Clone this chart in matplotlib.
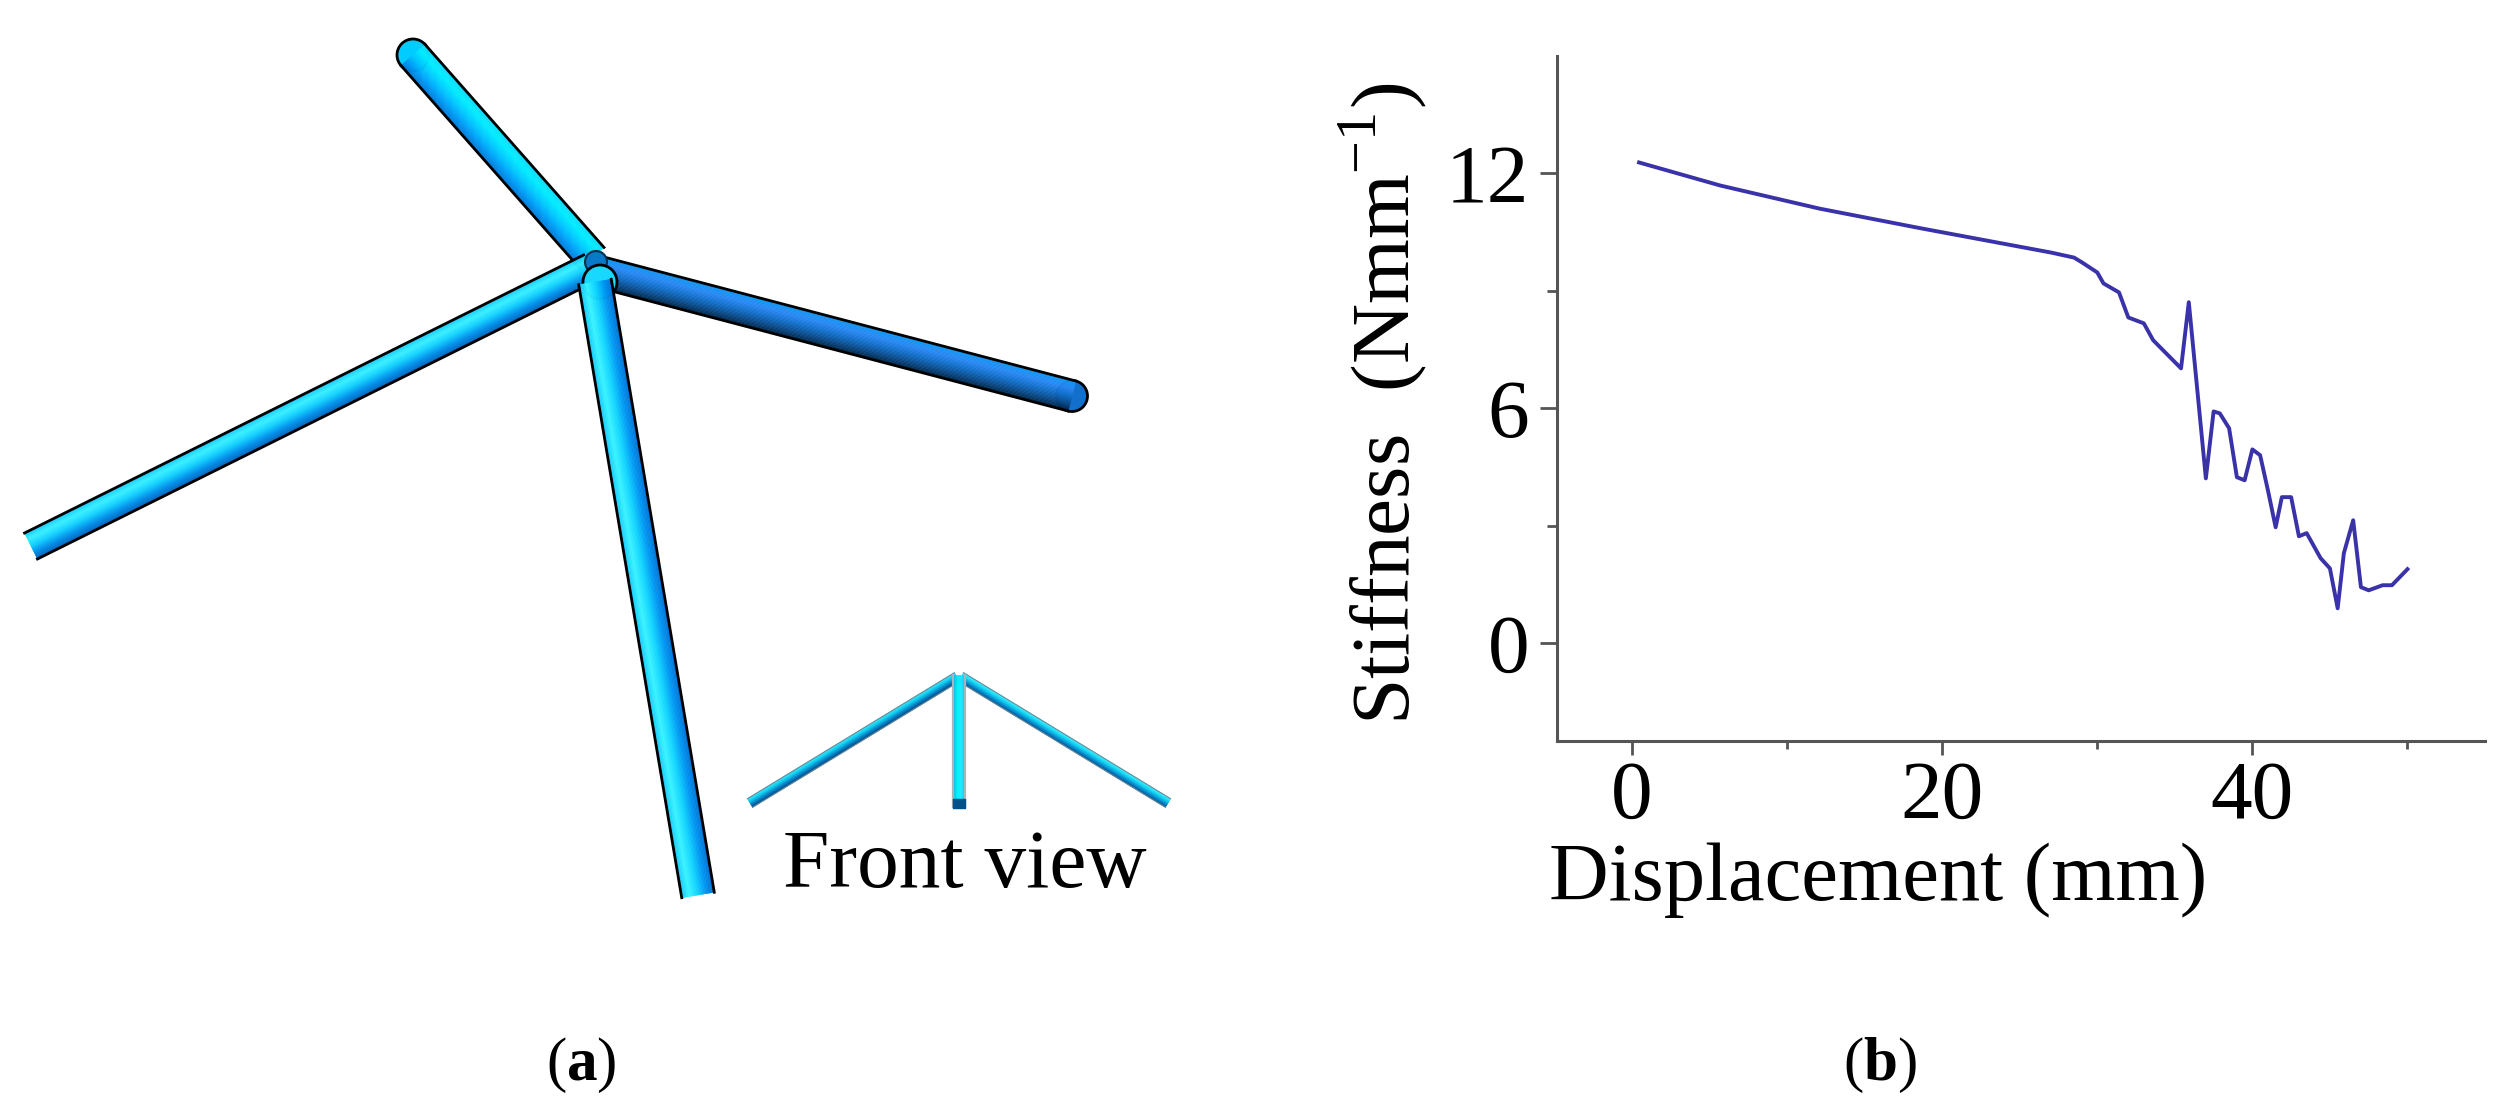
import numpy as np
import matplotlib
matplotlib.use("Agg")
import matplotlib.pyplot as plt
from matplotlib.colors import LinearSegmentedColormap
from matplotlib.patches import Circle

plt.rcParams['font.family'] = ['Liberation Serif', 'DejaVu Serif']
plt.rcParams['mathtext.fontset'] = 'custom'
plt.rcParams['mathtext.rm'] = 'Liberation Serif'
plt.rcParams['mathtext.bf'] = 'Liberation Serif:bold'
plt.rcParams['axes.unicode_minus'] = False

# stiffness curve
displacement = [0.45, 5.7, 12.1, 18.6, 27.0, 28.5, 29.0, 30.0, 30.4, 31.4, 32.0, 33.0, 33.6, 35.4, 35.9,
                37.0, 37.5, 37.9, 38.5, 39.0, 39.5, 40.0, 40.5, 41.0, 41.5, 41.9, 42.5, 43.0,
                43.5, 44.4, 45.0, 45.5, 45.9, 46.5, 47.0, 47.5, 48.4, 49.0, 50.0]
stiffness = [12.28, 11.69, 11.1, 10.6, 9.98, 9.85, 9.73, 9.47, 9.19, 8.96, 8.32, 8.17, 7.74, 7.02, 8.71,
             4.21, 5.92, 5.87, 5.49, 4.24, 4.16, 4.95, 4.80, 3.91, 2.96, 3.73, 3.73, 2.73,
             2.81, 2.17, 1.91, 0.89, 2.30, 3.14, 1.43, 1.35, 1.48, 1.48, 1.89]

x_major = [0, 20, 40]
x_minor = [10, 30, 50]
y_major = [0, 6, 12]
y_minor = [3, 9]

# tube geometry of the truss drawing, in image pixels
hub = (596, 262)
tube_up = [(413, 55), (592, 258)]
tube_left = [(31, 546), (590, 268)]
tube_right = [(1072, 396), (600, 272)]
tube_down = [(698, 895), (595, 282)]
front_left = [(750, 803), (957, 677)]
front_right = [(1168, 803), (961, 677)]
front_mid = [(959, 807), (959, 675)]

# colours across each tube, one edge to the other
colors_up = ['#10d8ff', '#00eeff', '#00ccff', '#00a0f8', '#0078d8']
colors_left = ['#10c8ff', '#38f0ff', '#10d0ff', '#0090ec', '#0060b8']
colors_right = ['#00213f', '#0a4c8c', '#1270cc', '#2a88f4', '#0a98f4']
colors_down = ['#12c4ff', '#38f4ff', '#10d4ff', '#0098f4', '#0070d4']
colors_front = ['#004c88', '#0a88cc', '#10d0f0', '#40f0ff']
colors_mid = ['#00b8e8', '#00f0ff', '#20e8ff', '#00c0f0']


def draw_tube(ax, ends, width, colors, edge='black', edge_width=2.0, cap=None, z=1):
    p0, p1 = np.array(ends[0], float), np.array(ends[1], float)
    d = (p1 - p0) / np.hypot(*(p1 - p0))
    n = np.array([-d[1], d[0]])
    cmap = LinearSegmentedColormap.from_list('tube', colors)
    if cap == 'round':
        ax.add_patch(Circle(p0, width / 2, fc=cmap(0.5), ec=edge, lw=edge_width, zorder=z))
    steps = 24
    for i in range(steps):
        a = -width / 2 + width * i / steps
        b = -width / 2 + width * (i + 1) / steps
        poly = np.array([p0 + n * a, p1 + n * a, p1 + n * b, p0 + n * b])
        ax.fill(poly[:, 0], poly[:, 1], color=cmap((i + 0.5) / steps), lw=0.4, zorder=z)
    for s in (-width / 2, width / 2):
        ax.plot([p0[0] + n[0] * s, p1[0] + n[0] * s], [p0[1] + n[1] * s, p1[1] + n[1] * s],
                color=edge, lw=edge_width, zorder=z + 0.5)


fig = plt.figure(figsize=(25.09, 11.16), dpi=100)

# overlay in pixel coordinates for the left hand drawing and captions
draw = fig.add_axes([0, 0, 1, 1])
draw.set_xlim(0, 2509)
draw.set_ylim(1116, 0)
draw.axis('off')

draw_tube(draw, tube_up, 32, colors_up, cap='round', z=2)
draw_tube(draw, tube_left, 29, colors_left, z=3)
draw_tube(draw, tube_right, 31, colors_right, cap='round', z=2)
draw.add_patch(Circle(hub, 11, fc='#0878c8', ec='#06304c', lw=1.5, zorder=4))
draw.add_patch(Circle((600, 282), 17, fc='#18d8ff', ec='black', lw=2.0, zorder=4))
draw_tube(draw, tube_down, 33, colors_down, z=5)

draw_tube(draw, front_left, 10, colors_front[::-1], edge='#6a8a98', edge_width=0.8, z=2)
draw_tube(draw, front_right, 10, colors_front, edge='#6a8a98', edge_width=0.8, z=2)
draw_tube(draw, front_mid, 12, colors_mid, edge='#a8b4bc', edge_width=1.6, z=3)
draw.fill_between([953, 965], 799, 808, color='#00508c', zorder=4)

draw.text(965, 887, 'Front view', fontsize=60, ha='center', va='baseline', color='black')
draw.text(581, 1080, r'($\mathbf{a}$)', fontsize=44, ha='center', va='baseline')
draw.text(1880, 1080, r'($\mathbf{b}$)', fontsize=44, ha='center', va='baseline')

# stiffness axes placed to the reference pixel box
left, right, top, bottom = 1557, 2485, 56, 741
ax = fig.add_axes([left / 2509, 1 - bottom / 1116, (right - left) / 2509, (bottom - top) / 1116])
ax.patch.set_alpha(0)
ax.plot(displacement, stiffness, color='#3a32a8', lw=2.8)
ax.set_xlim(-4.84, 55.0)
ax.set_ylim(-2.5, 15.0)

ax.spines['top'].set_visible(False)
ax.spines['right'].set_visible(False)
for side in ('left', 'bottom'):
    ax.spines[side].set_color('#555555')
    ax.spines[side].set_linewidth(2.2)

ax.set_xticks(x_major)
ax.set_xticks(x_minor, minor=True)
ax.set_yticks(y_major)
ax.set_yticks(y_minor, minor=True)
ax.tick_params(axis='x', which='major', length=10, width=2, color='#555555', labelsize=60, pad=4)
ax.tick_params(axis='x', which='minor', length=6, width=2, color='#555555')
ax.tick_params(axis='y', which='major', length=12, width=2, color='#555555', labelsize=60, pad=8)
ax.tick_params(axis='y', which='minor', length=7, width=2, color='#555555')

ax.set_xlabel('Displacement (mm)', fontsize=59.5, va='baseline')
ax.xaxis.set_label_coords(0.346, -0.232)
ax.set_ylabel(r'Stiffness  (Nmm$^{-1}$)', fontsize=60, va='baseline')
ax.yaxis.set_label_coords(-0.159, 0.493)

fig.savefig('out.png', dpi=100)
